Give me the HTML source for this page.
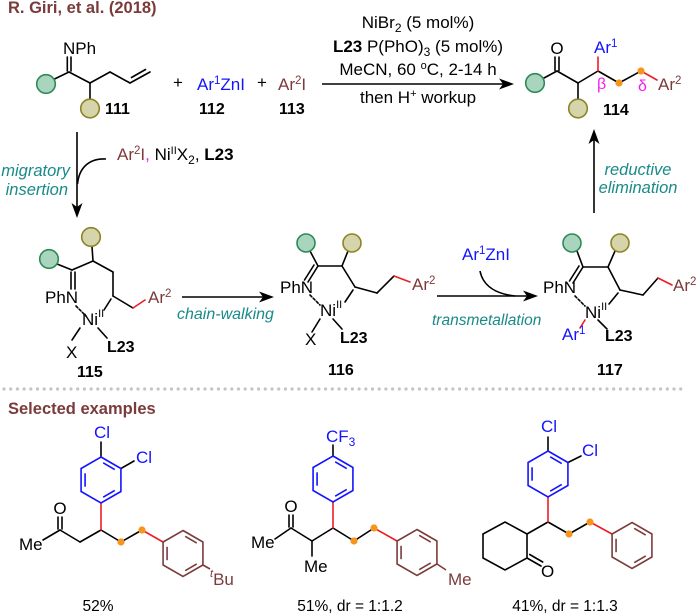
<!DOCTYPE html>
<html><head><meta charset="utf-8">
<style>html,body{margin:0;padding:0;background:#fff}svg{display:block}</style>
</head><body>
<svg width="700" height="615" viewBox="0 0 700 615" xmlns="http://www.w3.org/2000/svg" xmlns:xlink="http://www.w3.org/1999/xlink" font-family="'Liberation Sans', Arial, sans-serif" font-size="17">
<defs>
  <g id="hex" fill="none" stroke-width="1.6">
    <polygon points="0,-23 19.92,-11.5 19.92,11.5 0,23 -19.92,11.5 -19.92,-11.5"/>
    <line x1="-15.93" y1="-6.7" x2="-15.93" y2="6.7"/>
    <line x1="2.17" y1="-17.15" x2="13.76" y2="-10.45"/>
    <line x1="13.76" y1="10.45" x2="2.17" y2="17.15"/>
  </g>
</defs>

<!-- Title -->
<text x="8" y="13" font-size="16.5" font-weight="bold" fill="#7b3b3b">R. Giri, et al. (2018)</text>

<g stroke="#000" stroke-width="1.6" fill="none" stroke-linecap="round">
  <!-- 111 -->
  <line x1="67.3" y1="57" x2="67.3" y2="71"/>
  <line x1="71" y1="57" x2="71" y2="71"/>
  <line x1="54.5" y1="79" x2="69" y2="72"/>
  <line x1="69" y1="72" x2="90" y2="83"/>
  <line x1="90" y1="83" x2="90" y2="99"/>
  <line x1="90" y1="83" x2="110" y2="72"/>
  <line x1="110" y1="72" x2="130" y2="83"/>
  <line x1="130" y1="83" x2="150" y2="72"/>
  <line x1="131.5" y1="77.5" x2="145.5" y2="69.5"/>

  <!-- 114 -->
  <line x1="555" y1="57" x2="555" y2="70.5"/>
  <line x1="559" y1="57" x2="559" y2="70.5"/>
  <line x1="544" y1="78" x2="557" y2="71"/>
  <line x1="557" y1="71" x2="578" y2="83"/>
  <line x1="578" y1="83" x2="578" y2="99"/>
  <line x1="578" y1="83" x2="598" y2="71"/>
  <line x1="598" y1="71" x2="619" y2="83"/>
  <line x1="619" y1="83" x2="641" y2="71"/>

  <!-- 115 -->
  <line x1="57" y1="264" x2="72" y2="270"/>
  <line x1="92" y1="246.5" x2="93" y2="261"/>
  <line x1="72" y1="270" x2="93" y2="261"/>
  <line x1="93" y1="261" x2="113" y2="272"/>
  <line x1="113" y1="272" x2="113" y2="296"/>
  <line x1="113" y1="296" x2="133" y2="308"/>
  <line x1="71" y1="272" x2="71" y2="289"/>
  <line x1="75" y1="272" x2="75" y2="289"/>
  <line x1="76" y1="306" x2="86" y2="316" stroke-dasharray="2.5,2"/>
  <line x1="111" y1="299" x2="104" y2="310"/>
  <line x1="80" y1="328" x2="72" y2="340"/>
  <line x1="98" y1="328" x2="107" y2="338"/>

  <!-- 116 -->
  <line x1="310" y1="251" x2="318" y2="266"/>
  <line x1="348" y1="251" x2="342" y2="266"/>
  <line x1="318" y1="266" x2="342" y2="266"/>
  <line x1="318" y1="266" x2="308" y2="282"/>
  <line x1="314" y1="265" x2="304.5" y2="280"/>
  <line x1="342" y1="266" x2="355" y2="287"/>
  <line x1="355" y1="287" x2="377" y2="293"/>
  <line x1="377" y1="293" x2="394" y2="276"/>
  <line x1="310" y1="295" x2="320" y2="305" stroke-dasharray="2.5,2"/>
  <line x1="353" y1="290" x2="345" y2="302"/>
  <line x1="320" y1="319" x2="312" y2="332"/>
  <line x1="333" y1="319" x2="342" y2="329"/>

  <!-- 117 -->
  <line x1="577" y1="251" x2="583" y2="267"/>
  <line x1="615" y1="251" x2="608" y2="267"/>
  <line x1="583" y1="267" x2="608" y2="267"/>
  <line x1="583" y1="267" x2="573" y2="283"/>
  <line x1="579" y1="266" x2="569.5" y2="281"/>
  <line x1="608" y1="267" x2="620" y2="290"/>
  <line x1="620" y1="290" x2="643" y2="295"/>
  <line x1="643" y1="295" x2="658" y2="278"/>
  <line x1="575" y1="296" x2="585" y2="306" stroke-dasharray="2.5,2"/>
  <line x1="618" y1="293" x2="609" y2="304"/>
  <line x1="598" y1="320" x2="607" y2="329"/>

  <!-- Example 1 -->
  <line x1="101" y1="457" x2="101" y2="442"/>
  <line x1="121" y1="468.5" x2="134" y2="461"/>
  <line x1="43" y1="540" x2="60" y2="530"/>
  <line x1="58" y1="517" x2="58" y2="529"/>
  <line x1="62" y1="517" x2="62" y2="529"/>
  <line x1="60" y1="530" x2="80" y2="542"/>
  <line x1="80" y1="542" x2="101" y2="530"/>
  <line x1="101" y1="530" x2="121" y2="542"/>
  <line x1="121" y1="542" x2="142" y2="530"/>

  <!-- Example 2 -->
  <line x1="333" y1="456" x2="333" y2="445"/>
  <line x1="275" y1="539" x2="291" y2="528"/>
  <line x1="289" y1="515" x2="289" y2="527"/>
  <line x1="293" y1="515" x2="293" y2="527"/>
  <line x1="291" y1="528" x2="312" y2="541"/>
  <line x1="312" y1="541" x2="312" y2="556"/>
  <line x1="312" y1="541" x2="333" y2="528"/>
  <line x1="333" y1="528" x2="354" y2="541"/>
  <line x1="354" y1="541" x2="374" y2="528"/>

  <!-- Example 3 -->
  <line x1="548" y1="451" x2="548" y2="437"/>
  <line x1="568" y1="462.5" x2="581" y2="456"/>
  <line x1="548" y1="522" x2="527" y2="534"/>
  <line x1="548" y1="522" x2="569" y2="534"/>
  <line x1="569" y1="534" x2="590" y2="522"/>
  <polygon points="527,534 505,522 483,534 483,558 505,570 527,558"/>
  <line x1="527" y1="558" x2="541" y2="566"/>
  <line x1="529.7" y1="554.5" x2="542.7" y2="562"/>
</g>

<!-- red bonds -->
<g stroke="#ee1c24" stroke-width="1.6" stroke-linecap="round">
  <line x1="598" y1="71" x2="598" y2="57"/>
  <line x1="641" y1="71" x2="657" y2="80"/>
  <line x1="133" y1="308" x2="145" y2="300"/>
  <line x1="394" y1="276" x2="410" y2="282"/>
  <line x1="658" y1="278" x2="672" y2="285"/>
  <line x1="585" y1="320" x2="580" y2="328"/>
  <line x1="101" y1="503" x2="101" y2="530"/>
  <line x1="142" y1="530" x2="163" y2="542"/>
  <line x1="333" y1="502" x2="333" y2="528"/>
  <line x1="374" y1="528" x2="397" y2="541"/>
  <line x1="548" y1="497" x2="548" y2="522"/>
  <line x1="590" y1="522" x2="612" y2="534"/>
</g>

<!-- rings -->
<use xlink:href="#hex" href="#hex" transform="translate(101,480)" stroke="#1414ff"/>
<use xlink:href="#hex" href="#hex" transform="translate(183,553.5)" stroke="#7b3b3b"/>
<line x1="203" y1="565" x2="210" y2="569" stroke="#7b3b3b" stroke-width="1.6"/>
<use xlink:href="#hex" href="#hex" transform="translate(333,479)" stroke="#1414ff"/>
<use xlink:href="#hex" href="#hex" transform="translate(417,552.5)" stroke="#7b3b3b"/>
<line x1="437" y1="564" x2="446" y2="570" stroke="#7b3b3b" stroke-width="1.6"/>
<use xlink:href="#hex" href="#hex" transform="translate(548,474)" stroke="#1414ff"/>
<use xlink:href="#hex" href="#hex" transform="translate(632,545.5)" stroke="#7b3b3b"/>

<!-- circles -->
<g stroke-width="1.6">
  <circle cx="46" cy="84" r="9.3" fill="#a9d5bf" stroke="#2e8a55"/>
  <circle cx="90" cy="108.5" r="9.3" fill="#d6d4aa" stroke="#8c8426"/>
  <circle cx="535" cy="83" r="9.3" fill="#a9d5bf" stroke="#2e8a55"/>
  <circle cx="578" cy="108.5" r="9.3" fill="#d6d4aa" stroke="#8c8426"/>
  <circle cx="49" cy="259" r="9.3" fill="#a9d5bf" stroke="#2e8a55"/>
  <circle cx="91" cy="237" r="9.3" fill="#d6d4aa" stroke="#8c8426"/>
  <circle cx="306" cy="243" r="9" fill="#a9d5bf" stroke="#2e8a55"/>
  <circle cx="352" cy="243" r="9" fill="#d6d4aa" stroke="#8c8426"/>
  <circle cx="572" cy="243" r="9" fill="#a9d5bf" stroke="#2e8a55"/>
  <circle cx="620" cy="243" r="9" fill="#d6d4aa" stroke="#8c8426"/>
</g>

<!-- orange dots -->
<g fill="#f7941d">
  <circle cx="619" cy="83" r="3.6"/><circle cx="641" cy="71" r="3.6"/>
  <circle cx="121" cy="542" r="3.6"/><circle cx="142" cy="530" r="3.6"/>
  <circle cx="354" cy="541" r="3.6"/><circle cx="374" cy="528" r="3.6"/>
  <circle cx="569" cy="534" r="3.6"/><circle cx="590" cy="522" r="3.6"/>
</g>

<!-- arrows -->
<g stroke="#000" stroke-width="1.6" fill="none">
  <line x1="322" y1="84" x2="503" y2="84"/>
  <line x1="77" y1="132" x2="77" y2="207"/>
  <line x1="594" y1="213" x2="594" y2="140"/>
  <line x1="182" y1="297" x2="263" y2="297"/>
  <line x1="437" y1="296" x2="527" y2="296"/>
  <path d="M106,159 C89,158 79,168 77.5,184"/>
  <path d="M480,271 C483,286 496,294 515,296"/>
</g>
<g fill="#000">
  <polygon points="514,84 499,78.5 503,84 499,89.5"/>
  <polygon points="77,218 71.5,203 77,207 82.5,203"/>
  <polygon points="594,129 588.5,144 594,140 599.5,144"/>
  <polygon points="274,297 259,291.5 263,297 259,302.5"/>
  <polygon points="538,296 523,290.5 527,296 523,301.5"/>
</g>

<!-- dotted separator -->
<line x1="4" y1="389" x2="684" y2="389" stroke="#c4c4c4" stroke-width="3.2" stroke-linecap="round" stroke-dasharray="0 6.7"/>

<!-- top row text -->
<text x="63" y="54">NPh</text>
<text x="105" y="114" font-size="16" font-weight="bold">111</text>
<text x="178" y="88" text-anchor="middle">+</text>
<text x="197" y="90" fill="#1414ff">Ar<tspan font-size="11.5" dy="-6">1</tspan><tspan dy="6">ZnI</tspan></text>
<text x="199" y="114" font-size="16" font-weight="bold">112</text>
<text x="262" y="88" text-anchor="middle">+</text>
<text x="278" y="90" fill="#7b3b3b">Ar<tspan font-size="11.5" dy="-6">2</tspan><tspan dy="6">I</tspan></text>
<text x="279" y="114" font-size="16" font-weight="bold">113</text>

<text x="418" y="28" text-anchor="middle">NiBr<tspan font-size="12" dy="4">2</tspan><tspan dy="-4"> (5 mol%)</tspan></text>
<text x="418" y="52" text-anchor="middle"><tspan font-weight="bold">L23</tspan> P(PhO)<tspan font-size="12" dy="4">3</tspan><tspan dy="-4"> (5 mol%)</tspan></text>
<text x="418" y="75" text-anchor="middle">MeCN, 60 <tspan font-size="11" dy="-6">o</tspan><tspan dy="6">C, 2-14 h</tspan></text>
<text x="418" y="103" text-anchor="middle">then H<tspan font-size="11" dy="-6">+</tspan><tspan dy="6"> workup</tspan></text>

<!-- 114 labels -->
<text x="557" y="54" text-anchor="middle">O</text>
<text x="594" y="53" fill="#1414ff">Ar<tspan font-size="11.5" dy="-6">1</tspan></text>
<text x="597" y="89" fill="#f01ef0" font-size="16">β</text>
<text x="638" y="91" fill="#f01ef0" font-size="16">δ</text>
<text x="658" y="90" fill="#7b3b3b">Ar<tspan font-size="11.5" dy="-6">2</tspan></text>
<text x="603" y="115" font-size="16" font-weight="bold">114</text>

<!-- teal labels -->
<g fill="#198a8a" font-style="italic">
  <text x="70" y="176" text-anchor="end" font-size="16.5">migratory</text>
  <text x="68" y="195" text-anchor="end" font-size="16.5">insertion</text>
  <text x="638" y="175" text-anchor="middle" font-size="16.5">reductive</text>
  <text x="638" y="193" text-anchor="middle" font-size="16.5">elimination</text>
  <text x="177" y="319" font-size="16">chain-walking</text>
  <text x="432" y="325" font-size="15.5">transmetallation</text>
</g>

<!-- reagents -->
<text x="117" y="160"><tspan fill="#7b3b3b">Ar<tspan font-size="11.5" dy="-6">2</tspan><tspan dy="6">I</tspan></tspan><tspan fill="#f01ef0">,</tspan> Ni<tspan font-size="11" dy="-6">II</tspan><tspan dy="6">X</tspan><tspan font-size="12" dy="4">2</tspan><tspan dy="-4">, </tspan><tspan font-weight="bold">L23</tspan></text>
<text x="462" y="260" fill="#1414ff">Ar<tspan font-size="11.5" dy="-6">1</tspan><tspan dy="6">ZnI</tspan></text>

<!-- 115 labels -->
<text x="45" y="303">PhN</text>
<text x="82" y="325">Ni<tspan font-size="11" dy="-8">II</tspan></text>
<text x="66" y="358">X</text>
<text x="107" y="352" font-weight="bold" font-size="16">L23</text>
<text x="148" y="303" fill="#7b3b3b">Ar<tspan font-size="11.5" dy="-6">2</tspan></text>
<text x="77" y="377" font-size="16" font-weight="bold">115</text>

<!-- 116 labels -->
<text x="280" y="293">PhN</text>
<text x="320" y="316">Ni<tspan font-size="11" dy="-8">II</tspan></text>
<text x="305" y="345">X</text>
<text x="340" y="343" font-weight="bold" font-size="16">L23</text>
<text x="412" y="290" fill="#7b3b3b">Ar<tspan font-size="11.5" dy="-6">2</tspan></text>
<text x="328" y="375" font-size="16" font-weight="bold">116</text>

<!-- 117 labels -->
<text x="543" y="293">PhN</text>
<text x="585" y="318">Ni<tspan font-size="11" dy="-8">II</tspan></text>
<text x="562" y="340" fill="#1414ff">Ar<tspan font-size="11.5" dy="-6">1</tspan></text>
<text x="605" y="341" font-weight="bold" font-size="16">L23</text>
<text x="673" y="291" fill="#7b3b3b">Ar<tspan font-size="11.5" dy="-6">2</tspan></text>
<text x="597" y="375" font-size="16" font-weight="bold">117</text>

<!-- Selected examples -->
<text x="8" y="414" font-size="16.5" font-weight="bold" fill="#7b3b3b">Selected examples</text>

<!-- Example 1 -->
<text x="94" y="438" fill="#1414ff">Cl</text>
<text x="136" y="463" fill="#1414ff">Cl</text>
<text x="60" y="514" text-anchor="middle">O</text>
<text x="19" y="550">Me</text>
<text x="210" y="585" fill="#7b3b3b"><tspan font-size="11" font-style="italic" dy="-8">t</tspan><tspan dy="8">Bu</tspan></text>
<text x="98" y="611" text-anchor="middle" font-size="15.5">52%</text>

<!-- Example 2 -->
<text x="326" y="442" fill="#1414ff">CF<tspan font-size="12" dy="4">3</tspan></text>
<text x="291" y="512" text-anchor="middle">O</text>
<text x="251" y="548">Me</text>
<text x="304" y="572">Me</text>
<text x="448" y="585" fill="#7b3b3b">Me</text>
<text x="350" y="611" text-anchor="middle" font-size="15.5">51%, dr = 1:1.2</text>

<!-- Example 3 -->
<text x="541" y="432" fill="#1414ff">Cl</text>
<text x="582" y="456" fill="#1414ff">Cl</text>
<text x="541" y="577">O</text>
<text x="565" y="611" text-anchor="middle" font-size="15.5">41%, dr = 1:1.3</text>
</svg>
</body></html>
